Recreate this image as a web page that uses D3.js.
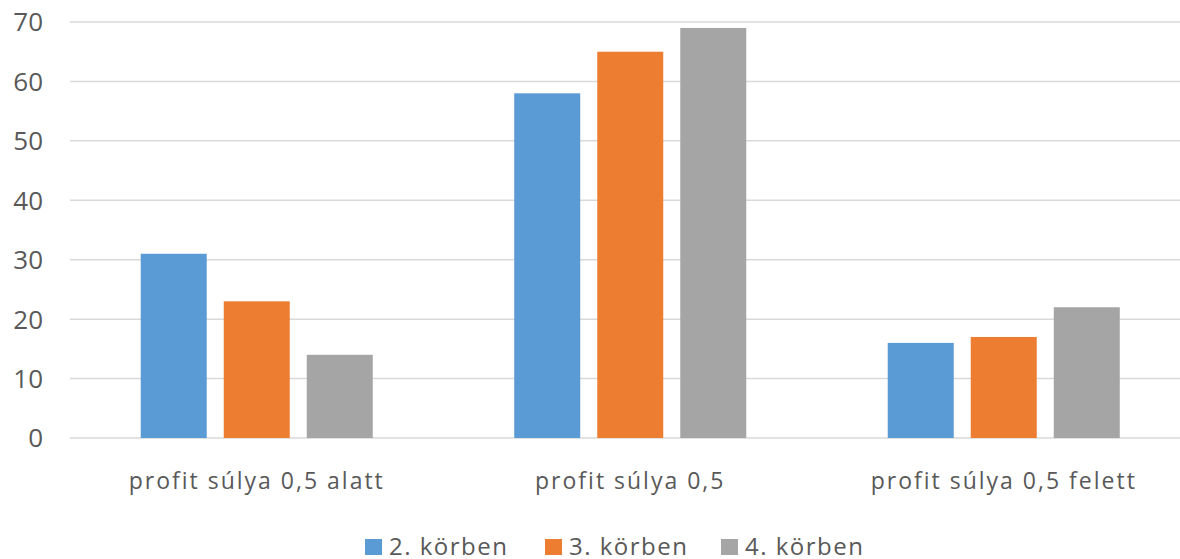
<!DOCTYPE html>
<html>
<head>
<meta charset="utf-8">
<script src="https://cdn.jsdelivr.net/npm/d3@7"></script>
<style>
  body { margin: 0; background: #fff; }
  svg { display: block; font-family: "Open Sans", "Noto Sans", sans-serif; }
</style>
</head>
<body>
<script>
// chart data
const categories = ['profit súlya 0,5 alatt', 'profit súlya 0,5', 'profit súlya 0,5 felett'];
const seriesNames = ['2. körben', '3. körben', '4. körben'];
const round2 = [31, 58, 16];
const round3 = [23, 65, 17];
const round4 = [14, 69, 22];
const yTicks = [0, 10, 20, 30, 40, 50, 60, 70];
const colors = ['#5b9bd5', '#ed7d31', '#a5a5a5'];

const seriesValues = [round2, round3, round4];

const width = 1180, height = 559;

const svg = d3.select('body')
    .append('svg')
    .attr('width', width)
    .attr('height', height);

const x = d3.scaleBand()
    .domain(categories)
    .range([70, 1190.5])
    .paddingInner(0)
    .paddingOuter(0);

const xInner = d3.scaleBand()
    .domain(seriesNames)
    .range([0, x.bandwidth()])
    .paddingInner(0.205)
    .paddingOuter(0.852);

const y = d3.scaleLinear()
    .domain([0, 70])
    .range([438, 22]);

// gridlines
svg.append('g')
    .selectAll('line')
    .data(yTicks)
    .enter()
    .append('line')
    .attr('x1', 70)
    .attr('x2', width)
    .attr('y1', d => y(d))
    .attr('y2', d => y(d))
    .attr('stroke', '#d9d9d9')
    .attr('stroke-width', 1.5);

// y labels
svg.append('g')
    .selectAll('text')
    .data(yTicks)
    .enter()
    .append('text')
    .attr('x', 43)
    .attr('y', d => y(d))
    .attr('dy', '0.36em')
    .attr('text-anchor', 'end')
    .attr('fill', '#595959')
    .style('font-size', '26px')
    .text(d => d);

// bars
const groups = svg.append('g')
    .selectAll('g')
    .data(categories)
    .enter()
    .append('g')
    .attr('transform', d => `translate(${x(d)},0)`);

groups.selectAll('rect')
    .data((d, i) => seriesNames.map((s, j) => ({ s, v: seriesValues[j][i], j })))
    .enter()
    .append('rect')
    .attr('x', d => xInner(d.s))
    .attr('y', d => y(d.v))
    .attr('width', xInner.bandwidth())
    .attr('height', d => y(0) - y(d.v))
    .attr('fill', d => colors[d.j]);

// category labels
svg.append('g')
    .selectAll('text')
    .data(categories)
    .enter()
    .append('text')
    .attr('x', d => x(d) + x.bandwidth() / 2)
    .attr('y', 489)
    .attr('text-anchor', 'middle')
    .attr('fill', '#595959')
    .style('font-size', '23px')
    .style('letter-spacing', '2px')
    .text(d => d);

// legend
const legendStart = [365, 545, 721];
const items = svg.append('g')
    .selectAll('g')
    .data(seriesNames)
    .enter()
    .append('g')
    .attr('transform', (d, i) => `translate(${legendStart[i]},0)`);

items.append('rect')
    .attr('x', 0)
    .attr('y', 539)
    .attr('width', 17)
    .attr('height', 16)
    .attr('fill', (d, i) => colors[i]);

items.append('text')
    .attr('x', 24)
    .attr('y', 555)
    .attr('fill', '#595959')
    .style('font-size', '24px')
    .style('letter-spacing', '1.5px')
    .text(d => d);
</script>
</body>
</html>
